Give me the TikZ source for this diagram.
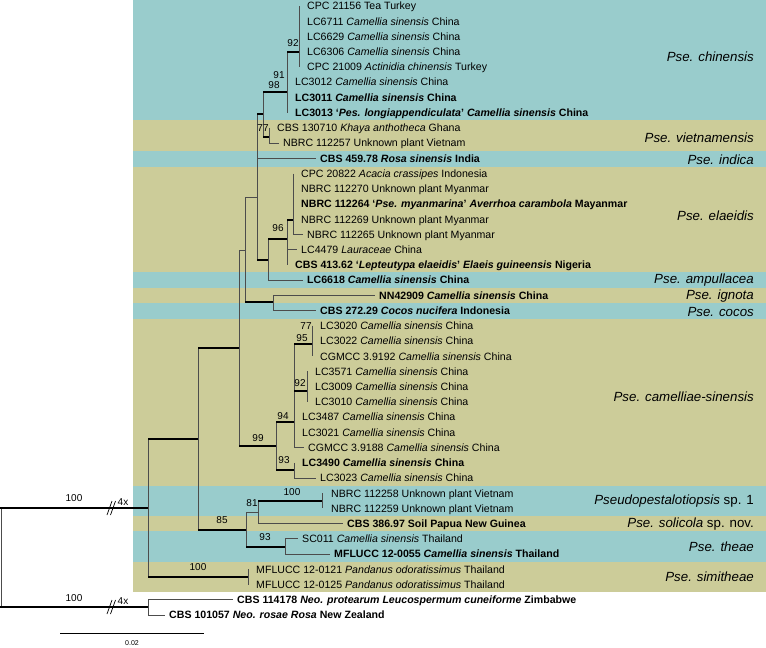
\documentclass[tikz,border=0pt]{standalone}
\usepackage{fontspec}
\setmainfont{Liberation Sans}
\definecolor{bandblue}{RGB}{153,204,204}
\definecolor{bandtan}{RGB}{204,204,153}
\begin{document}
\begin{tikzpicture}[x=1pt,y=-1pt,
	br/.style={black!70, line width=0.9pt},
	thk/.style={black, line width=2.8pt},
	leaf/.style={anchor=west, inner xsep=4pt, inner ysep=0pt, text height=7.6pt, text depth=0pt, font=\fontsize{10.6}{12}\selectfont},
	boot/.style={inner sep=0pt, font=\fontsize{10}{12}\selectfont},
	clade/.style={anchor=east, inner sep=0pt, text height=9.5pt, text depth=0pt, font=\fontsize{13.3}{15}\selectfont}]
	\useasboundingbox (0,0) rectangle (766,648);
	% bands
	\fill[bandblue] (133,0) rectangle (766,119.5);
	\fill[bandtan] (133,119.5) rectangle (766,151);
	\fill[bandblue] (133,151) rectangle (766,166.5);
	\fill[bandtan] (133,166.5) rectangle (766,272);
	\fill[bandblue] (133,272) rectangle (766,287.5);
	\fill[bandtan] (133,287.5) rectangle (766,303);
	\fill[bandblue] (133,303) rectangle (766,318.5);
	\fill[bandtan] (133,318.5) rectangle (766,485.5);
	\fill[bandblue] (133,485.5) rectangle (766,515.5);
	\fill[bandtan] (133,515.5) rectangle (766,531);
	\fill[bandblue] (133,531) rectangle (766,562);
	\fill[bandtan] (133,562) rectangle (766,592);
	% leaves
	\node[leaf] (cpc21156) at (303,6) {CPC 21156 Tea Turkey};
	\node[leaf] (lc6711) at (303,21.2) {LC6711 \textit{Camellia sinensis} China};
	\node[leaf] (lc6629) at (303,36.5) {LC6629 \textit{Camellia sinensis} China};
	\node[leaf] (lc6306) at (303,51.7) {LC6306 \textit{Camellia sinensis} China};
	\node[leaf] (cpc21009) at (303,66.9) {CPC 21009 \textit{Actinidia chinensis} Turkey};
	\node[leaf] (lc3012) at (291,82.1) {LC3012 \textit{Camellia sinensis} China};
	\node[leaf] (lc3011) at (291,97.4) {\textbf{LC3011 \textit{Camellia sinensis} China}};
	\node[leaf] (lc3013) at (291,112.6) {\textbf{LC3013 `\textit{Pes. longiappendiculata}' \textit{Camellia sinensis} China}};
	\node[leaf] (cbs130710) at (273,127.8) {CBS 130710 \textit{Khaya anthotheca} Ghana};
	\node[leaf] (nbrc112257) at (279,143) {NBRC 112257 Unknown plant Vietnam};
	\node[leaf] (cbs45978) at (316,158.3) {\textbf{CBS 459.78 \textit{Rosa sinensis} India}};
	\node[leaf] (cpc20822) at (297,173.5) {CPC 20822 \textit{Acacia crassipes} Indonesia};
	\node[leaf] (nbrc112270) at (297,188.7) {NBRC 112270 Unknown plant Myanmar};
	\node[leaf] (nbrc112264) at (297,203.9) {\textbf{NBRC 112264 `\textit{Pse. myanmarina}' \textit{Averrhoa carambola} Mayanmar}};
	\node[leaf] (nbrc112269) at (297,219.2) {NBRC 112269 Unknown plant Myanmar};
	\node[leaf] (nbrc112265) at (303,234.4) {NBRC 112265 Unknown plant Myanmar};
	\node[leaf] (lc4479) at (297,249.6) {LC4479 \textit{Lauraceae} China};
	\node[leaf] (cbs41362) at (291,264.8) {\textbf{CBS 413.62 `\textit{Lepteutypa elaeidis}' \textit{Elaeis guineensis} Nigeria}};
	\node[leaf] (lc6618) at (303,280.1) {\textbf{LC6618 \textit{Camellia sinensis} China}};
	\node[leaf] (nn42909) at (375,295.3) {\textbf{NN42909 \textit{Camellia sinensis} China}};
	\node[leaf] (cbs27229) at (316,310.5) {\textbf{CBS 272.29 \textit{Cocos nucifera} Indonesia}};
	\node[leaf] (lc3020) at (316,325.7) {LC3020 \textit{Camellia sinensis} China};
	\node[leaf] (lc3022) at (316,341) {LC3022 \textit{Camellia sinensis} China};
	\node[leaf] (cgmcc39192) at (316,356.2) {CGMCC 3.9192 \textit{Camellia sinensis} China};
	\node[leaf] (lc3571) at (311,371.4) {LC3571 \textit{Camellia sinensis} China};
	\node[leaf] (lc3009) at (311,386.6) {LC3009 \textit{Camellia sinensis} China};
	\node[leaf] (lc3010) at (311,401.9) {LC3010 \textit{Camellia sinensis} China};
	\node[leaf] (lc3487) at (298,417.1) {LC3487 \textit{Camellia sinensis} China};
	\node[leaf] (lc3021) at (298,432.3) {LC3021 \textit{Camellia sinensis} China};
	\node[leaf] (cgmcc39188) at (304,447.5) {CGMCC 3.9188 \textit{Camellia sinensis} China};
	\node[leaf] (lc3490) at (298,462.8) {\textbf{LC3490 \textit{Camellia sinensis} China}};
	\node[leaf] (lc3023) at (316,478) {LC3023 \textit{Camellia sinensis} China};
	\node[leaf] (nbrc112258) at (327,493.2) {NBRC 112258 Unknown plant Vietnam};
	\node[leaf] (nbrc112259) at (327,508.4) {NBRC 112259 Unknown plant Vietnam};
	\node[leaf] (cbs38697) at (343,523.7) {\textbf{CBS 386.97 Soil Papua New Guinea}};
	\node[leaf] (sc011) at (298,538.9) {SC011 \textit{Camellia sinensis} Thailand};
	\node[leaf] (mflucc120055) at (330,554.1) {\textbf{MFLUCC 12-0055 \textit{Camellia sinensis} Thailand}};
	\node[leaf] (mflucc120121) at (252,569.3) {MFLUCC 12-0121 \textit{Pandanus odoratissimus} Thailand};
	\node[leaf] (mflucc120125) at (252,584.6) {MFLUCC 12-0125 \textit{Pandanus odoratissimus} Thailand};
	\node[leaf] (cbs114178) at (233,599.8) {\textbf{CBS 114178 \textit{Neo. protearum Leucospermum cuneiforme} Zimbabwe}};
	\node[leaf] (cbs101057) at (165,615) {\textbf{CBS 101057 \textit{Neo. rosae Rosa} New Zealand}};
	% internal nodes
	\coordinate (root) at (1.5,557);
	\coordinate (ing) at (148,508);
	\coordinate (out) at (148,607);
	\coordinate (nD) at (198,439);
	\coordinate (nsim) at (248,577);
	\coordinate (nC) at (239,348);
	\coordinate (n85) at (246,530);
	\coordinate (nB) at (245,250);
	\coordinate (n99) at (276,446);
	\coordinate (nA) at (257,197);
	\coordinate (nic) at (273,302);
	\coordinate (nchv) at (263,114);
	\coordinate (n98) at (287,92);
	\coordinate (n92) at (299,52);
	\coordinate (n77) at (269,137);
	\coordinate (nel) at (268,260);
	\coordinate (n96) at (287,239);
	\coordinate (nmy) at (293,220);
	\coordinate (n94) at (294,422);
	\coordinate (n95) at (312,344);
	\coordinate (n92b) at (307,391);
	\coordinate (n93a) at (294,470);
	\coordinate (n81) at (258,512);
	\coordinate (n100) at (322,501);
	\coordinate (n93b) at (285,547);
	% verticals
	\draw[br] (root |- ing) -- (root |- out);
	\draw[br] (ing |- nD) -- (ing |- nsim);
	\draw[br] (out |- cbs114178.west) -- (out |- cbs101057.west);
	\draw[br] (nsim |- mflucc120121.west) -- (nsim |- mflucc120125.west);
	\draw[br] (nD |- nC) -- (nD |- n85);
	\draw[br] (nC |- nB) -- (nC |- n99);
	\draw[br] (nB |- nA) -- (nB |- nic);
	\draw[br] (nA |- nchv) -- (nA |- nel);
	\draw[br] (nchv |- n98) -- (nchv |- n77);
	\draw[br] (n98 |- n92) -- (n98 |- lc3013.west);
	\draw[br] (n92 |- cpc21156.west) -- (n92 |- cpc21009.west);
	\draw[br] (n77 |- cbs130710.west) -- (n77 |- nbrc112257.west);
	\draw[br] (nel |- n96) -- (nel |- lc6618.west);
	\draw[br] (n96 |- nmy) -- (n96 |- cbs41362.west);
	\draw[br] (nmy |- cpc20822.west) -- (nmy |- nbrc112265.west);
	\draw[br] (nic |- nn42909.west) -- (nic |- cbs27229.west);
	\draw[br] (n99 |- n94) -- (n99 |- n93a);
	\draw[br] (n94 |- n95) -- (n94 |- cgmcc39188.west);
	\draw[br] (n95 |- lc3020.west) -- (n95 |- cgmcc39192.west);
	\draw[br] (n92b |- lc3571.west) -- (n92b |- lc3010.west);
	\draw[br] (n93a |- lc3490.west) -- (n93a |- lc3023.west);
	\draw[br] (n85 |- n81) -- (n85 |- n93b);
	\draw[br] (n81 |- n100) -- (n81 |- cbs38697.west);
	\draw[br] (n100 |- nbrc112258.west) -- (n100 |- nbrc112259.west);
	\draw[br] (n93b |- sc011.west) -- (n93b |- mflucc120055.west);
	% branches
	\draw[thk] (0,508) -- (ing);
	\draw[thk] (0,607) -- (out);
	\draw[thk] (ing |- nD) -- (nD);
	\draw[thk] (ing |- nsim) -- (nsim);
	\draw[thk] (nD |- nC) -- (nC);
	\draw[thk] (nD |- n85) -- (n85);
	\draw[br] (nC |- nB) -- (nB);
	\draw[br] (nB |- nA) -- (nA);
	\draw[thk] (nB |- nic) -- (nic);
	\draw[thk] (nA |- nchv) -- (nchv);
	\draw[thk] (nA |- nel) -- (nel);
	\draw[thk] (nchv |- n98) -- (n98);
	\draw[thk] (nchv |- n77) -- (n77);
	\draw[thk] (n98 |- n92) -- (n92);
	\draw[thk] (nel |- n96) -- (n96);
	\draw[thk] (n96 |- nmy) -- (nmy);
	\draw[thk] (nC |- n99) -- (n99);
	\draw[thk] (n99 |- n94) -- (n94);
	\draw[thk] (n99 |- n93a) -- (n93a);
	\draw[thk] (n94 |- n95) -- (n95);
	\draw[thk] (n94 |- n92b) -- (n92b);
	\draw[br] (n85 |- n81) -- (n81);
	\draw[thk] (n81 |- n100) -- (n100);
	\draw[thk] (n85 |- n93b) -- (n93b);
	% leaf branches
	\draw[br] (n77 |- nbrc112257.west) -- (nbrc112257.west);
	\draw[br] (nA |- cbs45978.west) -- (cbs45978.west);
	\draw[br] (nmy |- nbrc112265.west) -- (nbrc112265.west);
	\draw[br] (n96 |- lc4479.west) -- (lc4479.west);
	\draw[br] (nel |- lc6618.west) -- (lc6618.west);
	\draw[br] (nic |- nn42909.west) -- (nn42909.west);
	\draw[br] (nic |- cbs27229.west) -- (cbs27229.west);
	\draw[br] (n94 |- cgmcc39188.west) -- (cgmcc39188.west);
	\draw[br] (n93a |- lc3023.west) -- (lc3023.west);
	\draw[br] (n81 |- cbs38697.west) -- (cbs38697.west);
	\draw[br] (n93b |- sc011.west) -- (sc011.west);
	\draw[br] (n93b |- mflucc120055.west) -- (mflucc120055.west);
	\draw[br] (out |- cbs114178.west) -- (cbs114178.west);
	\draw[br] (out |- cbs101057.west) -- (cbs101057.west);
	% breaks
	\draw[black, line width=0.7pt] (107,515) -- (112,501) (110.5,515) -- (115.5,501);
	\draw[black, line width=0.7pt] (107,614) -- (112,600) (110.5,614) -- (115.5,600);
	\node[boot] (brk1) at (123,502) {4x};
	\node[boot] (brk2) at (123,601) {4x};
	% support values
	\node[boot] (bsing) at (74,498) {100};
	\node[boot] (bsout) at (74,598) {100};
	\node[boot] (bs92) at (293,43) {92};
	\node[boot] (bs91) at (279,75) {91};
	\node[boot] (bs98) at (274,85) {98};
	\node[boot] (bs77) at (263,128) {77};
	\node[boot] (bs96) at (278,228) {96};
	\node[boot] (bs99) at (258,438) {99};
	\node[boot] (bs94) at (283,416) {94};
	\node[boot] (bs95) at (302,338) {95};
	\node[boot] (bs77b) at (306,326) {77};
	\node[boot] (bs92b) at (300,383) {92};
	\node[boot] (bs93a) at (284,460) {93};
	\node[boot] (bs85) at (222,520) {85};
	\node[boot] (bs81) at (252,503) {81};
	\node[boot] (bs100) at (292,492) {100};
	\node[boot] (bs93b) at (265,537) {93};
	\node[boot] (bssim) at (198,567) {100};
	% clades
	\node[clade] (chinensis) at (754,57) {\textit{Pse. chinensis}};
	\node[clade] (vietnamensis) at (754,138) {\textit{Pse. vietnamensis}};
	\node[clade] (indica) at (754,160) {\textit{Pse. indica}};
	\node[clade] (elaeidis) at (754,216) {\textit{Pse. elaeidis}};
	\node[clade] (ampullacea) at (754,279) {\textit{Pse. ampullacea}};
	\node[clade] (ignota) at (754,295) {\textit{Pse. ignota}};
	\node[clade] (cocos) at (754,312) {\textit{Pse. cocos}};
	\node[clade] (camelliae) at (754,397) {\textit{Pse. camelliae-sinensis}};
	\node[clade] (spone) at (754,500) {\textit{Pseudopestalotiopsis} sp. 1};
	\node[clade] (solicola) at (754,523) {\textit{Pse. solicola} sp. nov.};
	\node[clade] (theae) at (754,547) {\textit{Pse. theae}};
	\node[clade] (simitheae) at (754,577) {\textit{Pse. simitheae}};
	% scale bar
	\coordinate (sb0) at (60,633);
	\coordinate (sb1) at (204,633);
	\draw[black, line width=0.8pt] (sb0) -- (sb1);
	\node[inner sep=0pt, font=\fontsize{7}{8}\selectfont] (sblabel) at (132,643) {0.02};
\end{tikzpicture}
\end{document}
